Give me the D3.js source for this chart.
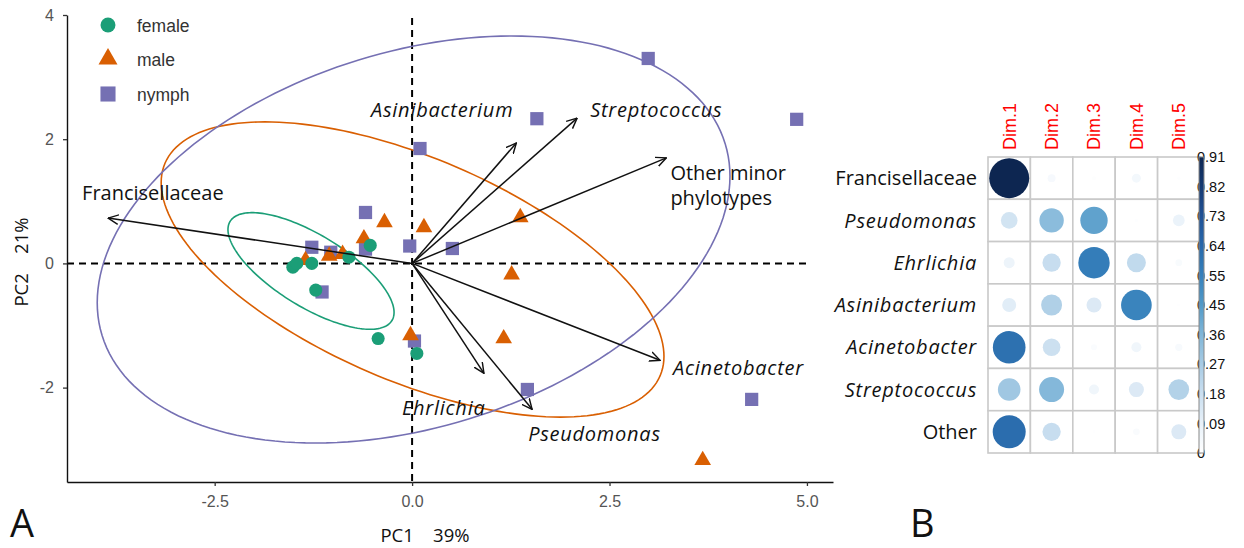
<!DOCTYPE html>
<html>
<head>
<meta charset="utf-8">
<script src="https://cdn.jsdelivr.net/npm/d3@7"></script>
<style>
  body { margin: 0; background: #fff; }
  svg { display: block; }
  text { white-space: pre; }
</style>
</head>
<body>
<svg id="chart" width="1244" height="548"></svg>
<script>
// ---------- Panel A: PCA biplot ----------
const groups = ["female", "male", "nymph"];

const femalePC1 = [-1.51, -1.46, -1.27, -0.80, -0.53, -1.22, -0.43, 0.06];
const femalePC2 = [-0.06, 0.00, 0.00, 0.10, 0.29, -0.43, -1.21, -1.45];

const malePC1 = [1.37, 0.15, -0.35, -0.61, -0.88, -1.05, -1.35, -0.02, 1.26, 1.16, 3.68];
const malePC2 = [0.74, 0.58, 0.66, 0.40, 0.15, 0.12, 0.05, -1.16, -0.18, -1.21, -3.17];

const nymphPC1 = [2.99, 4.87, 1.58, 0.10, 0.51, -0.03, -0.59, -0.59, -1.27, -1.03, -1.14, 0.03, 1.46, 4.30];
const nymphPC2 = [3.30, 2.32, 2.33, 1.85, 0.24, 0.28, 0.82, 0.23, 0.26, 0.18, -0.46, -1.25, -2.03, -2.19];

// confidence ellipses per group: centre and shape matrix [sxx, sxy, syy]
const ellipseCentre = [[-1.28, -0.122], [0.006, -0.098], [0.019, 0.385]];
const ellipseShape = [[1.106, -0.7006, 0.882], [10.135, -4.45, 5.65], [16.05, 4.077, 10.74]];

// taxon loadings (arrows)
const loadingTaxa = ["Francisellaceae", "Asinibacterium", "Streptococcus", "Other minor\nphylotypes",
                     "Acinetobacter", "Ehrlichia", "Pseudomonas"];
const loadingPC1 = [-3.85, 1.32, 2.09, 3.22, 3.14, 0.91, 1.52];
const loadingPC2 = [0.73, 1.94, 2.34, 1.70, -1.56, -1.77, -2.35];

const xTicks = [-2.5, 0, 2.5, 5];
const yTicks = [-2, 0, 2, 4];

// ---------- Panel B: contributions to dimensions ----------
const taxa = ["Francisellaceae", "Pseudomonas", "Ehrlichia", "Asinibacterium", "Acinetobacter", "Streptococcus", "Other"];
const dims = ["Dim.1", "Dim.2", "Dim.3", "Dim.4", "Dim.5"];
const contrib = [
  [0.91, 0.036, 0.009, 0.046, 0.006],
  [0.157, 0.338, 0.426, 0.006, 0.078],
  [0.069, 0.19, 0.56, 0.205, 0.026],
  [0.111, 0.25, 0.128, 0.535, 0.005],
  [0.607, 0.177, 0.02, 0.057, 0.03],
  [0.29, 0.355, 0.057, 0.128, 0.243],
  [0.62, 0.19, 0.005, 0.025, 0.128]
];
const colorbarLabels = ["0", "0.09", "0.18", "0.27", "0.36", "0.45", "0.55", "0.64", "0.73", "0.82", "0.91"];

// ======================================================
const svg = d3.select("#chart");
const sans = "'Liberation Sans', Arial, sans-serif";
const body = "'Open Sans', sans-serif";

const x = d3.scaleLinear().domain([-4.37, 5.33]).range([67, 833]);
const y = d3.scaleLinear().domain([-3.52, 4.0]).range([482, 15]);

const colour = d3.scaleOrdinal().domain(groups).range(["#1b9e77", "#d95f02", "#7570b3"]);
const shape = d3.scaleOrdinal().domain(groups).range([d3.symbolCircle, d3.symbolTriangle, d3.symbolSquare]);
const symSize = d3.scaleOrdinal().domain(groups).range([135, 120, 175]);

// reference lines through the origin
const gA = svg.append("g");
gA.append("line")
  .attr("x1", x.range()[0]).attr("x2", x(5.05))
  .attr("y1", y(0)).attr("y2", y(0))
  .attr("stroke", "#000").attr("stroke-width", 2).attr("stroke-dasharray", "7,5");
gA.append("line")
  .attr("x1", x(0)).attr("x2", x(0))
  .attr("y1", y(3.95)).attr("y2", y.range()[0])
  .attr("stroke", "#000").attr("stroke-width", 2).attr("stroke-dasharray", "7,5");

// ellipses
const ellipsePath = (c, s) => {
  const l11 = Math.sqrt(s[0]);
  const l21 = s[1] / l11;
  const l22 = Math.sqrt(s[2] - l21 * l21);
  const pts = d3.range(0, 361, 2).map(deg => {
    const t = deg * Math.PI / 180;
    const u = Math.cos(t), v = Math.sin(t);
    return [x(c[0] + l11 * u), y(c[1] + l21 * u + l22 * v)];
  });
  return d3.line()(pts) + "Z";
};
groups.forEach((g, i) => {
  gA.append("path")
    .attr("d", ellipsePath(ellipseCentre[i], ellipseShape[i]))
    .attr("fill", "none")
    .attr("stroke", colour(g))
    .attr("stroke-width", 1.6);
});

// points
const scores = {
  female: femalePC1.map((v, i) => [v, femalePC2[i]]),
  male: malePC1.map((v, i) => [v, malePC2[i]]),
  nymph: nymphPC1.map((v, i) => [v, nymphPC2[i]])
};
["nymph", "male", "female"].forEach(g => {
  gA.append("g").selectAll("path")
    .data(scores[g])
    .join("path")
    .attr("transform", d => `translate(${x(d[0])},${y(d[1])})`)
    .attr("d", d3.symbol(shape(g), symSize(g)))
    .attr("fill", colour(g));
});

// arrows
const defs = svg.append("defs");
defs.append("marker")
  .attr("id", "arrowhead")
  .attr("viewBox", "0 0 10 10")
  .attr("refX", 9.5).attr("refY", 5)
  .attr("markerWidth", 11).attr("markerHeight", 11)
  .attr("markerUnits", "userSpaceOnUse")
  .attr("orient", "auto")
  .append("path")
  .attr("d", "M0,0.6 L9.5,5 L0,9.4")
  .attr("fill", "none").attr("stroke", "#111").attr("stroke-width", 1.3);

const loadings = loadingTaxa.map((t, i) => ({ taxon: t, pc1: loadingPC1[i], pc2: loadingPC2[i] }));
gA.append("g").selectAll("line")
  .data(loadings)
  .join("line")
  .attr("x1", x(0)).attr("y1", y(0))
  .attr("x2", d => x(d.pc1)).attr("y2", d => y(d.pc2))
  .attr("stroke", "#111").attr("stroke-width", 1.5)
  .attr("marker-end", "url(#arrowhead)");

// label placement relative to arrow tips
const labelOffset = {
  "Francisellaceae": [-26, -18, "start"],
  "Asinibacterium": [-3, -26, "end"],
  "Streptococcus": [13, -1, "start"],
  "Other minor\nphylotypes": [4, 22, "start"],
  "Acinetobacter": [13, 15, "start"],
  "Ehrlichia": [-82, 42, "start"],
  "Pseudomonas": [-4, 32, "start"]
};
const plain = new Set(["Francisellaceae", "Other minor\nphylotypes", "Other"]);
const labelSize = 20;
const italicSpacing = 0.75;
loadings.forEach(d => {
  const [dx, dy, anchor] = labelOffset[d.taxon];
  const isPlain = plain.has(d.taxon);
  const t = gA.append("text")
    .attr("x", x(d.pc1) + dx).attr("y", y(d.pc2) + dy)
    .attr("text-anchor", anchor)
    .attr("font-family", body).attr("font-size", labelSize)
    .attr("font-style", isPlain ? "normal" : "italic")
    .attr("letter-spacing", isPlain ? 0 : italicSpacing)
    .attr("fill", "#111");
  d.taxon.split("\n").forEach((line, k) => {
    t.append("tspan").attr("x", x(d.pc1) + dx).attr("dy", k ? 25 : 0).text(line);
  });
});

// axes
const xAxis = svg.append("g")
  .attr("transform", `translate(0,${y.range()[0]})`)
  .call(d3.axisBottom(x).tickValues(xTicks).tickFormat(d => d.toFixed(1)).tickSize(4).tickSizeOuter(0).tickPadding(10));
const yAxis = svg.append("g")
  .attr("transform", `translate(${x.range()[0]},0)`)
  .call(d3.axisLeft(y).tickValues(yTicks).tickFormat(d => String(d)).tickSize(4).tickSizeOuter(0).tickPadding(9));
[xAxis, yAxis].forEach(a => {
  a.select(".domain").attr("stroke", "#111").attr("stroke-width", 1.4);
  a.selectAll(".tick line").attr("stroke", "#333").attr("stroke-width", 1.3);
  a.selectAll(".tick text").attr("fill", "#555").attr("font-family", sans).attr("font-size", 16);
});

// axis titles
svg.append("text")
  .attr("x", 425).attr("y", 542)
  .attr("text-anchor", "middle")
  .attr("font-family", body).attr("font-size", 18.5).attr("fill", "#111")
  .text("PC1    39%");
svg.append("text")
  .attr("transform", "translate(28,262) rotate(-90)")
  .attr("text-anchor", "middle")
  .attr("font-family", body).attr("font-size", 18.5).attr("fill", "#111")
  .text("PC2    21%");

// legend
const legend = svg.append("g");
groups.forEach((g, i) => {
  const ly = [25, 59, 94][i];
  legend.append("path")
    .attr("transform", `translate(108,${ly})`)
    .attr("d", d3.symbol(shape(g), symSize(g) * 1.3))
    .attr("fill", colour(g));
  legend.append("text")
    .attr("x", 137).attr("y", ly + 7)
    .attr("font-family", sans).attr("font-size", 17.5).attr("fill", "#333")
    .text(g);
});

// panel letters
svg.append("text").attr("x", 10).attr("y", 537)
  .attr("font-family", body).attr("font-size", 38).attr("fill", "#111").text("A");
svg.append("text").attr("x", 910).attr("y", 537)
  .attr("font-family", body).attr("font-size", 38).attr("fill", "#111").text("B");

// ---------- Panel B drawing ----------
const gx = d3.scaleBand().domain(dims).range([988, 1200]);
const gy = d3.scaleBand().domain(taxa).range([157, 453]);
const radius = d3.scaleSqrt().domain([0, 0.91]).range([0, 20]);
const fill = d3.scaleLinear()
  .domain([0, 0.09, 0.18, 0.27, 0.36, 0.45, 0.55, 0.64, 0.73, 0.82, 0.91])
  .range(["#ffffff", "#e8f1f9", "#cbdff0", "#a8cce4", "#82b7d9", "#549bc9",
          "#3580bb", "#2868aa", "#1f5196", "#163b72", "#0d2651"])
  .clamp(true);

const gB = svg.append("g");
const cells = taxa.flatMap((t, r) => dims.map((d, c) => ({ taxon: t, dim: d, value: contrib[r][c] })));

gB.selectAll("rect.cell")
  .data(cells)
  .join("rect")
  .attr("class", "cell")
  .attr("x", d => gx(d.dim)).attr("y", d => gy(d.taxon))
  .attr("width", gx.bandwidth()).attr("height", gy.bandwidth())
  .attr("fill", "#fff").attr("stroke", "#c9c9c9").attr("stroke-width", 1.6);

gB.selectAll("circle")
  .data(cells)
  .join("circle")
  .attr("cx", d => gx(d.dim) + gx.bandwidth() / 2)
  .attr("cy", d => gy(d.taxon) + gy.bandwidth() / 2)
  .attr("r", d => radius(d.value))
  .attr("fill", d => fill(d.value));

// row labels
gB.selectAll("text.row")
  .data(taxa)
  .join("text")
  .attr("class", "row")
  .attr("x", 977)
  .attr("y", d => gy(d) + gy.bandwidth() / 2)
  .attr("dy", "0.36em")
  .attr("text-anchor", "end")
  .attr("font-family", body).attr("font-size", labelSize)
  .attr("font-style", d => plain.has(d) ? "normal" : "italic")
  .attr("letter-spacing", d => plain.has(d) ? 0 : italicSpacing)
  .attr("fill", "#111")
  .text(d => d);

// column labels
gB.selectAll("text.col")
  .data(dims)
  .join("text")
  .attr("class", "col")
  .attr("transform", d => `translate(${gx(d) + gx.bandwidth() / 2},150) rotate(-90)`)
  .attr("dy", "0.36em")
  .attr("font-family", sans).attr("font-size", 18)
  .attr("fill", "#ff0000")
  .text(d => d);

// colour bar
const cbY = d3.scaleLinear().domain([0, colorbarLabels.length - 1]).range([453, 157]);
gB.selectAll("text.cb")
  .data(colorbarLabels)
  .join("text")
  .attr("class", "cb")
  .attr("x", 1197)
  .attr("y", (d, i) => cbY(i))
  .attr("dy", "0.36em")
  .attr("font-family", sans).attr("font-size", 14.5)
  .attr("fill", "#111")
  .text(d => d);

const grad = defs.append("linearGradient")
  .attr("id", "cbgrad").attr("x1", 0).attr("y1", 1).attr("x2", 0).attr("y2", 0);
d3.range(0, 1.0001, 0.05).forEach(t => {
  grad.append("stop").attr("offset", t).attr("stop-color", fill(t * 0.91));
});
gB.append("rect")
  .attr("x", 1199).attr("y", 157)
  .attr("width", 5).attr("height", 296)
  .attr("fill", "url(#cbgrad)")
  .attr("stroke", "#888").attr("stroke-width", 1);
</script>
</body>
</html>
